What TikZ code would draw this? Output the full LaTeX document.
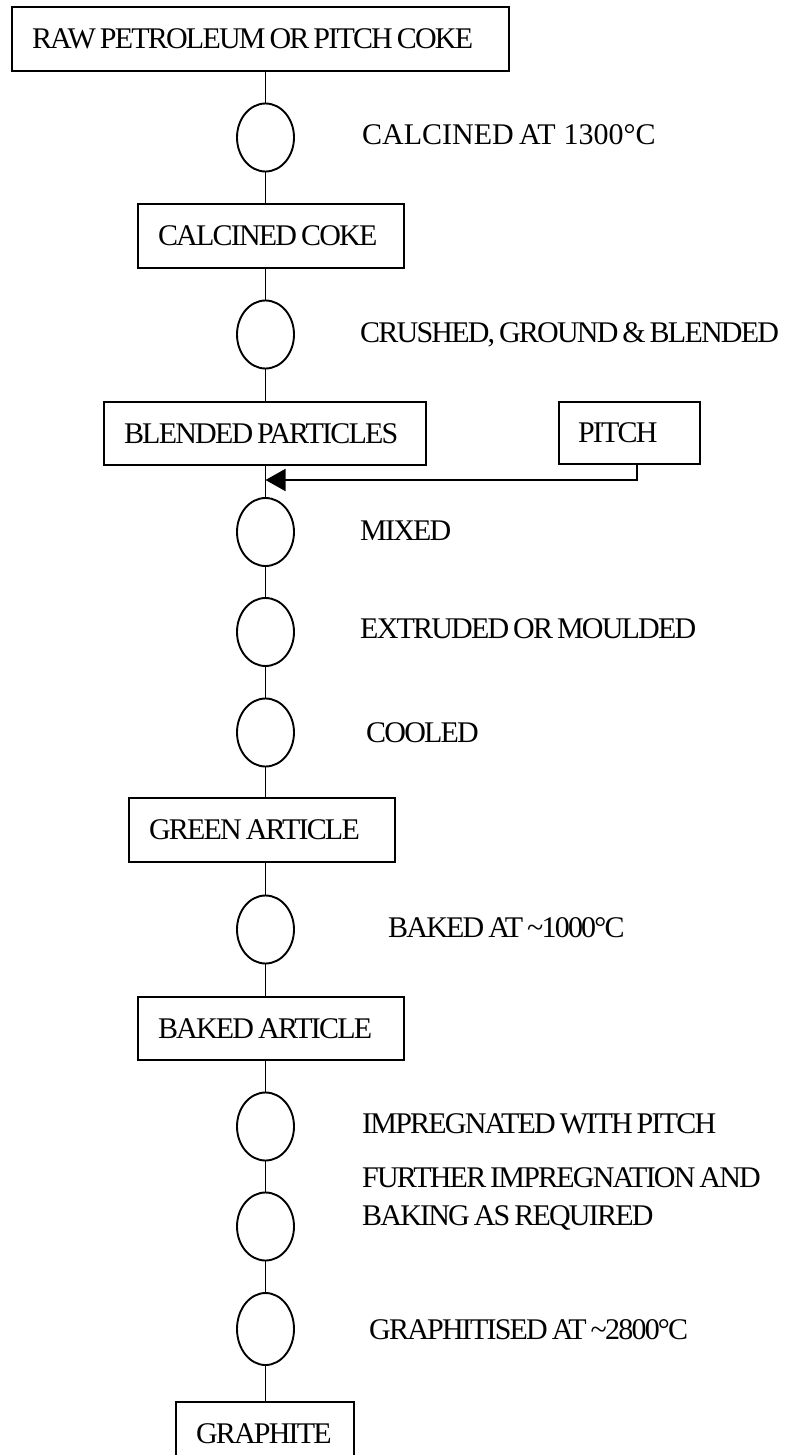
\documentclass[tikz,border=0pt]{standalone}
\usepackage{fontspec}
\setmainfont{Liberation Serif}[LetterSpace=-6, WordSpace=0.7]
\usetikzlibrary{shapes.geometric,arrows.meta}

\begin{document}
\begin{tikzpicture}[x=1pt,y=-1pt,
  every node/.style={font=\fontsize{30}{38}\selectfont},
  stage/.style={draw, rectangle, line width=1.7pt, inner xsep=20pt, inner ysep=0pt,
                minimum height=64pt, align=flush left,
                execute at begin node={\spaceskip=0pt\xspaceskip=0pt}},
  op/.style={draw, ellipse, line width=1.9pt, minimum width=57pt, minimum height=68pt, inner sep=0pt},
  lbl/.style={anchor=base west, inner sep=0pt, align=left},
  link/.style={line width=1.7pt},
  feed/.style={line width=1.7pt, -{Triangle[length=20pt,width=22pt]}}]

\useasboundingbox (0,0) rectangle (802,1455);
\clip (0,0) rectangle (802,1455);

% process stages (boxes); text starts 20pt inside the left edge
\node[stage, text width=457pt] (raw)   at (260.5,39)   {RAW PETROLEUM OR PITCH COKE};
\node[stage, text width=226pt] (cc)    at (271,236)    {CALCINED COKE};
\node[stage, text width=282pt, minimum height=63pt] (bp) at (265,433.5) {BLENDED PARTICLES};
\node[stage, text width=103pt, inner xsep=19pt, minimum height=62pt] (pitch) at (629.5,433) {PITCH};
\node[stage, text width=226pt] (green) at (262,830)    {GREEN ARTICLE};
\node[stage, text width=226pt, minimum height=63pt] (baked) at (271,1028.5) {BAKED ARTICLE};
\node[stage, text width=138pt] (graph) at (265,1434) {GRAPHITE};

% operations (ellipses on the main line)
\node[op] (o1) at (265.5,137.5) {};
\node[op] (o2) at (265.5,334.5) {};
\node[op] (o3) at (265.5,532)   {};
\node[op] (o4) at (265.5,632)   {};
\node[op] (o5) at (265.5,732.5) {};
\node[op] (o6) at (265.5,929.5) {};
\node[op] (o7) at (265.5,1126.5) {};
\node[op] (o8) at (265.5,1226.5) {};
\node[op, minimum height=72pt] (o9) at (265.5,1329) {};

% operation labels
\node[lbl] (l1) at (362,145)  {\addfontfeatures{LetterSpace=0}CALCINED AT\hspace{8pt}1300°C};
\node[lbl] (l2) at (360,342)  {CRUSHED, GROUND \& BLENDED};
\node[lbl] (l3) at (360,540)  {MIXED};
\node[lbl] (l4) at (360,638)  {EXTRUDED OR MOULDED};
\node[lbl] (l5) at (366,742)  {COOLED};
\node[lbl] (l6) at (388,937)  {BAKED AT \textasciitilde1000°C};
\node[lbl] (l7) at (362,1133) {IMPREGNATED WITH PITCH};
\node[lbl] (l8) at (362,1225) {FURTHER IMPREGNATION AND\\BAKING AS REQUIRED};
\node[lbl] (l9) at (369,1339) {GRAPHITISED AT \textasciitilde2800°C};

% main flow line
\draw[link] (o1.north) -- (o1.north |- raw.south);
\draw[link] (o1.south) -- (o1.south |- cc.north);
\draw[link] (o2.north) -- (o2.north |- cc.south);
\draw[link] (o2.south) -- (o2.south |- bp.north);
\draw[link] (o3.north) -- (o3.north |- bp.south);
\draw[link] (o3.south) -- (o4.north);
\draw[link] (o4.south) -- (o5.north);
\draw[link] (o5.south) -- (o5.south |- green.north);
\draw[link] (o6.north) -- (o6.north |- green.south);
\draw[link] (o6.south) -- (o6.south |- baked.north);
\draw[link] (o7.north) -- (o7.north |- baked.south);
\draw[link] (o7.south) -- (o8.north);
\draw[link] (o8.south) -- (o9.north);
\draw[link] (o9.south) -- (o9.south |- graph.north);

% pitch fed into the mixing step
\coordinate (join) at (265.5,480);
\draw[feed] ([xshift=7.5pt]pitch.south) |- (join);
\end{tikzpicture}
\end{document}
